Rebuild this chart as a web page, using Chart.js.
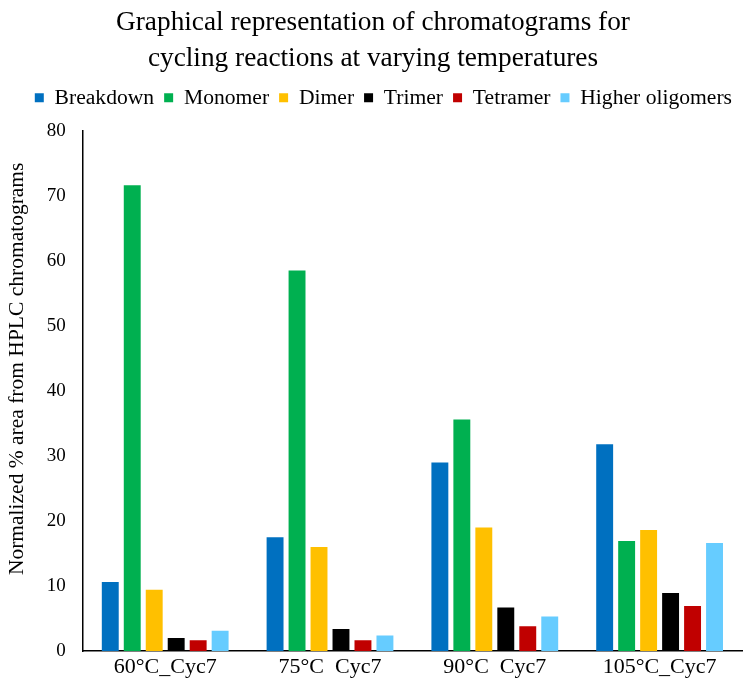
<!DOCTYPE html>
<html>
<head>
<meta charset="utf-8">
<script src="https://cdn.jsdelivr.net/npm/chart.js@4/dist/chart.umd.min.js"></script>
<style>
  html, body { margin: 0; padding: 0; background: #fff; }
  #wrap { width: 745px; height: 682px; position: relative; }
</style>
</head>
<body>
<div id="wrap"><canvas id="c"></canvas></div>
<script>
// Reaction conditions (x categories)
const categories = ['60°C_Cyc7', '75°C  Cyc7', '90°C  Cyc7', '105°C_Cyc7'];

// Normalized % peak area per species
const breakdown = [10.6, 17.5, 29.0, 31.8];
const monomer   = [71.6, 58.5, 35.6, 16.9];
const dimer     = [9.4, 16.0, 19.0, 18.6];
const trimer    = [2.0, 3.4, 6.7, 8.9];
const tetramer  = [1.65, 1.65, 3.8, 6.9];
const higherOligomers = [3.1, 2.4, 5.3, 16.6];

const yTicks = [0, 10, 20, 30, 40, 50, 60, 70, 80];
const yAxisTitle = 'Normalized % area from HPLC chromatograms';

const serif = "'Liberation Serif', 'Times New Roman', serif";

const series = [
  { label: 'Breakdown', data: breakdown, color: '#0070C0' },
  { label: 'Monomer', data: monomer, color: '#00B050' },
  { label: 'Dimer', data: dimer, color: '#FFC000' },
  { label: 'Trimer', data: trimer, color: '#000000' },
  { label: 'Tetramer', data: tetramer, color: '#C00000' },
  { label: 'Higher oligomers', data: higherOligomers, color: '#66CCFF' }
];

const AXIS_TITLE_SIZE = 21.5;

// Extra room under the legend row
const legendSpacing = {
  id: 'legendSpacing',
  afterInit(chart) {
    const legend = chart.legend;
    const fit = legend.fit;
    legend.fit = function () {
      fit.call(this);
      this.height += 12;
    };
  }
};

// Vertical value-axis title, placed a little above the axis middle
const valueAxisTitle = {
  id: 'valueAxisTitle',
  afterDraw(chart) {
    const { ctx, chartArea } = chart;
    const y = (chartArea.top + chartArea.bottom) / 2 - 22;
    ctx.save();
    ctx.translate(17, y);
    ctx.rotate(-Math.PI / 2);
    ctx.font = AXIS_TITLE_SIZE + 'px ' + serif;
    ctx.fillStyle = '#000';
    ctx.textAlign = 'center';
    ctx.textBaseline = 'middle';
    ctx.fillText(yAxisTitle, 0, 0);
    ctx.restore();
  }
};

new Chart(document.getElementById('c'), {
  type: 'bar',
  data: {
    labels: categories,
    datasets: series.map(s => ({
      label: s.label,
      data: s.data,
      backgroundColor: s.color,
      borderWidth: 0,
      categoryPercentage: 0.8,
      barPercentage: 0.77
    }))
  },
  plugins: [legendSpacing, valueAxisTitle],
  options: {
    responsive: true,
    maintainAspectRatio: false,
    animation: false,
    devicePixelRatio: 1,
    layout: { padding: { left: 4, right: 3, top: 0, bottom: -1 } },
    plugins: {
      title: {
        display: true,
        text: ['Graphical representation of chromatograms for', 'cycling reactions at varying temperatures'],
        color: '#000',
        font: { family: serif, size: 27.3, weight: 'normal', lineHeight: 1.32 },
        padding: { top: 5, bottom: 0 }
      },
      legend: {
        position: 'top',
        align: 'end',
        labels: {
          color: '#000',
          font: { family: serif, size: 21.6 },
          boxWidth: 9,
          boxHeight: 9,
          padding: 10
        }
      },
      tooltip: { enabled: false }
    },
    scales: {
      x: {
        grid: { display: false, drawTicks: false },
        border: { display: true, color: '#000', width: 1.5 },
        ticks: { color: '#000', font: { family: serif, size: 22, lineHeight: 1.0 }, padding: 5, autoSkip: false, maxRotation: 0 }
      },
      y: {
        min: 0,
        max: 80,
        afterBuildTicks: axis => { axis.ticks = yTicks.map(v => ({ value: v })); },
        afterFit: axis => { axis.width += AXIS_TITLE_SIZE * 1.2; },
        grid: { display: false, drawTicks: false },
        border: { display: true, color: '#000', width: 1.5 },
        ticks: { color: '#000', font: { family: serif, size: 19 }, padding: 17 }
      }
    }
  }
});
</script>
</body>
</html>
